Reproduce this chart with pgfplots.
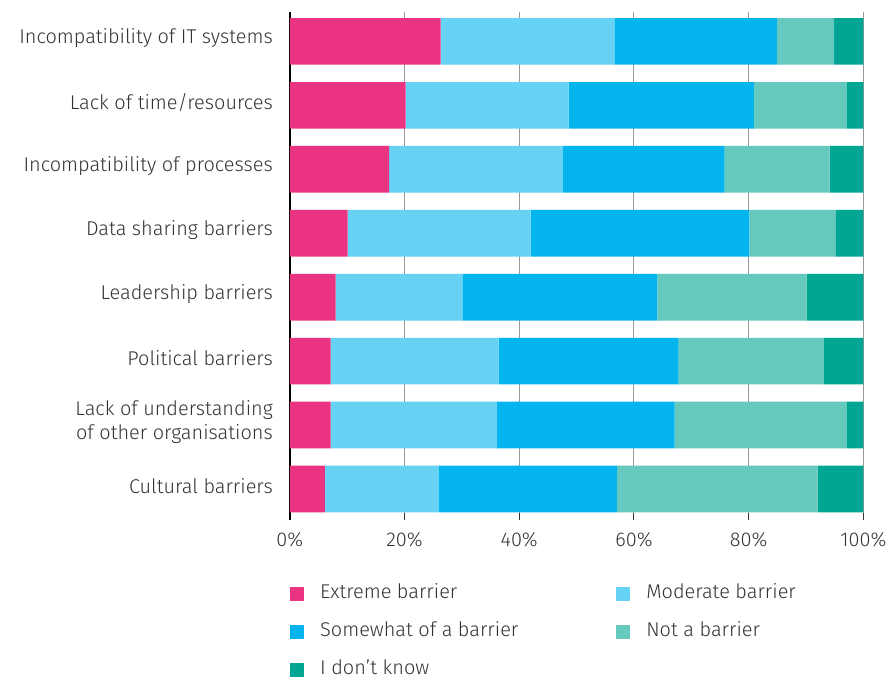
\documentclass[border=0pt]{standalone}
\usepackage{pgfplots}
\pgfplotsset{compat=1.18}
\usepackage{fontspec}
\setmainfont{Fira Sans Light}

\definecolor{extreme}{HTML}{EA3381}
\definecolor{moderate}{HTML}{66D3F4}
\definecolor{somewhat}{HTML}{04B4ED}
\definecolor{notbar}{HTML}{66C9BE}
\definecolor{dunno}{HTML}{00A693}
\definecolor{txt}{HTML}{333333}

\begin{document}
\begin{tikzpicture}
\begin{axis}[
    scale only axis,
    width=287bp, height=250.5bp,
    xbar stacked,
    bar width=23.35bp,
    xmin=0, xmax=100,
    ymin=-0.46, ymax=7.37,
    y dir=reverse,
    axis line style={draw=none},
    xtick={20,40,60,80,100},
    xticklabel={\pgfmathprintnumber{\tick}\%},
    extra x ticks={0},
    extra x tick labels={0\%},
    extra x tick style={grid style={black, line width=1bp}, major tick style={black, line width=1bp}},
    xmajorgrids,
    grid style={gray!80, line width=0.5bp},
    tick align=outside,
    xtick pos=bottom,
    major tick length=3.5bp,
    major tick style={txt, line width=0.5bp},
    ytick={0,...,7},
    ytick style={draw=none},
    yticklabels={
        {Incompatibility of IT systems},
        {Lack of time/resources},
        {Incompatibility of processes},
        {Data sharing barriers},
        {Leadership barriers},
        {Political barriers},
        {Lack of understanding\\of other organisations},
        {Cultural barriers}},
    yticklabel style={align=right, text=txt, font=\fontsize{10}{12.5}\selectfont, xshift=-1.5bp, yshift=1.5bp},
    xticklabel style={text=txt, font=\fontsize{10}{12}\selectfont, yshift=-3bp},
    /pgf/number format/assume math mode=true,
    legend columns=2,
    legend cell align=left,
    legend style={at={(0,0)}, anchor=north west, yshift=-36bp, draw=none,
        inner sep=0pt, row sep=10bp,
        font=\fontsize{10}{12}\selectfont, text=txt,
        nodes={inner xsep=8bp, inner ysep=0pt, text height=7bp, text depth=2bp},
        /tikz/column 2/.style={column sep=41bp}},
    legend image code/.code={\fill[#1] (0bp,-3.5bp) rectangle (7bp,3.5bp);},
]
\addplot+[fill=extreme, draw=none] coordinates {
    (26.3,0) (20.2,1) (17.3,2) (10.1,3) (8.0,4) (7.1,5) (7.1,6) (6.1,7)};
\addplot+[fill=moderate, draw=none] coordinates {
    (30.3,0) (28.4,1) (30.3,2) (31.9,3) (22.1,4) (29.3,5) (29.0,6) (19.9,7)};
\addplot+[fill=somewhat, draw=none] coordinates {
    (28.3,0) (32.3,1) (28.2,2) (38.1,3) (34.0,4) (31.4,5) (31.0,6) (31.0,7)};
\addplot+[fill=notbar, draw=none] coordinates {
    (10.0,0) (16.2,1) (18.3,2) (15.0,3) (26.0,4) (25.3,5) (30.0,6) (35.0,7)};
\addplot+[fill=dunno, draw=none] coordinates {
    (5.1,0) (2.9,1) (5.9,2) (4.9,3) (9.9,4) (6.9,5) (2.9,6) (8.0,7)};
\legend{Extreme barrier, Moderate barrier, Somewhat of a barrier, Not a barrier, I don’t know}
\end{axis}
\path (current axis.south west) ++(-145bp,-81bp) rectangle ++(446.5bp,337.5bp);
\end{tikzpicture}
\end{document}
